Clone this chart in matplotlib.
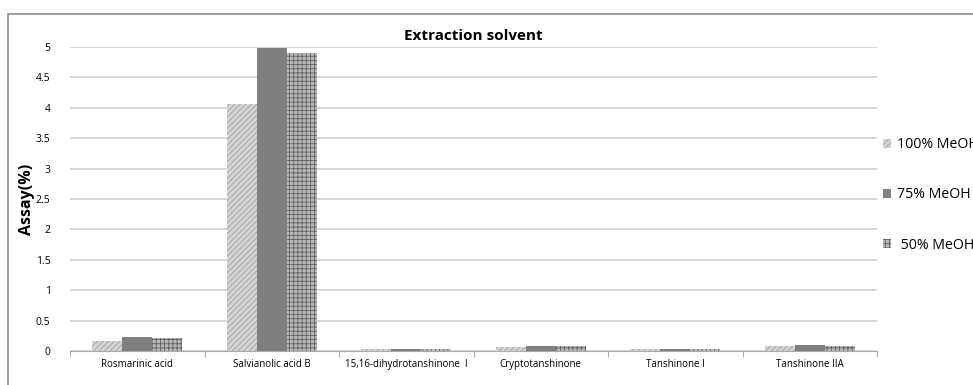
import matplotlib
matplotlib.use("Agg")
import matplotlib.pyplot as plt
import numpy as np
from matplotlib.patches import Rectangle

categories = ["Rosmarinic acid", "Salvianolic acid B", "15,16-dihydrotanshinone  I",
              "Cryptotanshinone", "Tanshinone I", "Tanshinone IIA"]
series_names = ["100% MeOH", "75% MeOH", " 50% MeOH"]
meoh100 = [0.16, 4.07, 0.03, 0.07, 0.03, 0.09]
meoh75 = [0.23, 4.98, 0.04, 0.09, 0.04, 0.10]
meoh50 = [0.21, 4.90, 0.04, 0.08, 0.04, 0.08]
yticks = [0, 0.5, 1, 1.5, 2, 2.5, 3, 3.5, 4, 4.5, 5]
ytick_labels = ["0", "0.5", "1", "1.5", "2", "2.5", "3", "3.5", "4", "4.5", "5"]

plt.rcParams['font.family'] = ['Open Sans', 'DejaVu Sans']
plt.rcParams['hatch.linewidth'] = 0.6

fig = plt.figure(figsize=(9.73, 3.85), dpi=100)
# outer chart border
fig.patches.append(Rectangle((8/973, -0.1), 1.1, (385-14)/385 + 0.1, transform=fig.transFigure,
                             fill=False, edgecolor='#8c8c8c', linewidth=1.2))
ax = fig.add_axes([70/973, 1-351/385, (877-70)/973, (351-47)/385])

x = np.arange(len(categories))
w = 0.222
styles = [
    dict(color='#d4d4d4', edgecolor='#a0a0a0', hatch='//////'),
    dict(color='#7f7f7f', edgecolor='#7f7f7f', hatch=None),
    dict(color='#b8b8b8', edgecolor='#606060', hatch='++++'),
]
for i, (vals, st) in enumerate(zip([meoh100, meoh75, meoh50], styles)):
    ax.bar(x + (i-1)*w, vals, w, label=series_names[i], facecolor=st['color'],
           edgecolor=st['edgecolor'], hatch=st['hatch'], linewidth=0, zorder=3)

ax.set_xlim(-0.5, len(categories)-0.5)
ax.set_ylim(0, 5)
ax.set_yticks(yticks)
ax.set_yticklabels(ytick_labels, fontsize=7.5)
ax.yaxis.grid(True, color='#d0d0d0', linewidth=1.2, zorder=0)
ax.set_axisbelow(True)
ax.set_xticks(x)
ax.set_xticklabels(categories, fontsize=7)
ax.tick_params(axis='x', length=0, pad=6)
ax.tick_params(axis='y', length=0, pad=14)
ax.set_xticks(np.arange(-0.5, len(categories)), minor=True)
ax.tick_params(axis='x', which='minor', length=4, color='#999999')
for s in ['top', 'right', 'left']:
    ax.spines[s].set_visible(False)
ax.spines['bottom'].set_color('#aaaaaa')
ax.set_ylabel("Assay(%)", fontsize=11.5, fontweight='bold')
ax.yaxis.set_label_coords(-0.043, 0.5)
ax.set_title("Extraction solvent", fontsize=11, fontweight='bold', pad=5)

leg = fig.legend(loc='center left', bbox_to_anchor=(870/973, 1-195/385), frameon=False,
                 fontsize=10.2, handlelength=0.6, handleheight=0.6, labelspacing=2.5,
                 handletextpad=0.4)

fig.savefig("out.png", dpi=100)
